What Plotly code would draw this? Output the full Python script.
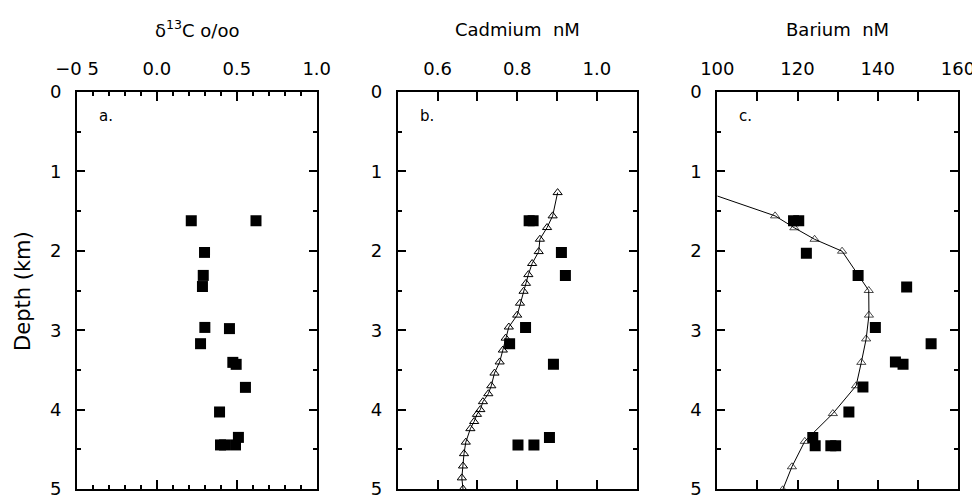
import plotly.graph_objects as go

# Panel a: carbon isotope samples
c13_depth = [1.62, 1.62, 2.02, 2.31, 2.45, 2.965, 2.98, 3.17, 3.405, 3.43, 3.72, 4.03, 4.445, 4.445, 4.445, 4.35]
c13_value = [0.215, 0.62, 0.298, 0.29, 0.285, 0.30, 0.454, 0.273, 0.475, 0.496, 0.554, 0.392, 0.398, 0.423, 0.492, 0.51]

# Panel b: cadmium samples and profile
cd_depth = [1.62, 1.62, 2.02, 2.31, 2.965, 3.17, 3.43, 4.35, 4.445, 4.445]
cd_value = [0.83, 0.84, 0.911, 0.921, 0.821, 0.781, 0.891, 0.881, 0.802, 0.842]
cd_prof_depth = [1.267, 1.56, 1.707, 1.854, 2.01, 2.16, 2.30, 2.41, 2.51, 2.66, 2.81, 2.96, 3.10, 3.25,
                 3.40, 3.54, 3.70, 3.80, 3.90, 4.00, 4.06, 4.15, 4.24, 4.41, 4.555, 4.71, 4.86, 5.00]
cd_prof_value = [0.9015, 0.889, 0.875, 0.857, 0.854, 0.8375, 0.828, 0.822, 0.816, 0.807, 0.80, 0.779, 0.771, 0.764,
                 0.756, 0.743, 0.735, 0.7275, 0.714, 0.7075, 0.699, 0.692, 0.6825, 0.671, 0.6665, 0.664, 0.661, 0.664]

# Panel c: barium samples and profile
ba_depth = [1.62, 1.62, 2.03, 2.31, 2.455, 2.965, 3.17, 3.40, 3.43, 3.715, 4.03, 4.35, 4.455, 4.455, 4.455]
ba_value = [119.0, 120.3, 122.2, 135.1, 147.2, 139.4, 153.3, 144.4, 146.3, 136.3, 132.8, 123.8, 124.4, 128.3, 129.5]
ba_prof_depth = [1.31, 1.56, 1.71, 1.855, 2.005, 2.50, 2.81, 3.11, 3.405, 3.70, 4.05, 4.40, 4.72, 5.01]
ba_prof_value = [100.0, 114.4, 119.2, 124.25, 131.1, 137.75, 137.8, 137.1, 135.9, 134.6, 128.8, 121.8, 118.6, 116.3]

# Axis ticks
a_ticks = [-0.5, 0.0, 0.5, 1.0]
a_labels = ["\u22120 5", "0.0", "0.5", "1.0"]
b_ticks = [0.6, 0.8, 1.0]
b_labels = ["0.6", "0.8", "1.0"]
c_ticks = [100, 120, 140, 160]
c_labels = ["100", "120", "140", "160"]

font_name = "DejaVu Sans"
tick_size = 18
sq = dict(symbol="square", size=11, color="black")
tri = dict(symbol="triangle-up-open", size=8, color="black", line=dict(width=1))

fig = go.Figure()

fig.add_trace(go.Scatter(x=c13_value, y=c13_depth, mode="markers", marker=sq, xaxis="x", yaxis="y"))

fig.add_trace(go.Scatter(x=cd_prof_value, y=cd_prof_depth, mode="lines+markers", marker=tri,
                         line=dict(color="black", width=1), xaxis="x2", yaxis="y2"))
fig.add_trace(go.Scatter(x=cd_value, y=cd_depth, mode="markers", marker=sq, xaxis="x2", yaxis="y2"))

# first barium point is only where the line enters the frame
ba_sizes = [0] + [8] * (len(ba_prof_value) - 1)
fig.add_trace(go.Scatter(x=ba_prof_value, y=ba_prof_depth, mode="lines+markers",
                         marker=dict(tri, size=ba_sizes),
                         line=dict(color="black", width=1), xaxis="x3", yaxis="y3"))
fig.add_trace(go.Scatter(x=ba_value, y=ba_depth, mode="markers", marker=sq, xaxis="x3", yaxis="y3"))

# shared axis styling
def xax(rng, ticks, labels, domain, minor_dtick, minor_len, anchor):
    return dict(range=rng, domain=domain, side="top", anchor=anchor, automargin=False,
                tickmode="array", tickvals=ticks, ticktext=labels,
                ticks="inside", ticklen=9, tickwidth=1.5, tickcolor="black",
                minor=dict(dtick=minor_dtick, tick0=0, ticks="inside", ticklen=minor_len,
                           tickwidth=1.5, tickcolor="black", showgrid=False),
                showline=True, linewidth=2, linecolor="black", mirror="allticks",
                showgrid=False, zeroline=False, ticklabelstandoff=8, ticklabeloverflow="allow",
                tickfont=dict(family=font_name, size=tick_size, color="black"))

def yax(anchor):
    return dict(range=[5, 0], anchor=anchor, domain=[0, 1], automargin=False,
                tickmode="linear", tick0=0, dtick=1,
                ticks="inside", ticklen=8, tickwidth=1.5, tickcolor="black",
                minor=dict(dtick=0.5, ticks="inside", ticklen=4, tickwidth=1.5,
                           tickcolor="black", showgrid=False),
                showline=True, linewidth=2, linecolor="black", mirror="allticks",
                showgrid=False, zeroline=False, ticklabelstandoff=10, ticklabeloverflow="allow",
                tickfont=dict(family=font_name, size=tick_size, color="black"))

dom_a = [0.0, 0.2721]
dom_b = [0.364, 0.6353]
dom_c = [0.7268, 1.0]

# page body adds an 8px offset, so the figure is 8px smaller than the window
fig.update_layout(
    width=972, height=488,
    margin=dict(l=69, r=22, t=84, b=7, autoexpand=False),
    plot_bgcolor="white", paper_bgcolor="white",
    showlegend=False,
    font=dict(family=font_name, size=tick_size, color="black"),
    xaxis=xax([-0.5, 1.0], a_ticks, a_labels, dom_a, 0.1, 4, "y"),
    xaxis2=xax([0.5, 1.1], b_ticks, b_labels, dom_b, 0.1, 9, "y2"),
    xaxis3=xax([100, 160], c_ticks, c_labels, dom_c, 10, 9, "y3"),
    yaxis=yax("x"),
    yaxis2=yax("x2"),
    yaxis3=yax("x3"),
)

# axis titles above each panel
titles = [("x", "\u03b4<sup>13</sup>C o/oo"), ("x2", "Cadmium  nM"), ("x3", "Barium  nM")]
for ax, txt in titles:
    fig.add_annotation(text=txt, xref=ax + " domain", x=0.5, yref="paper", y=1.0,
                       yshift=63, xanchor="center", yanchor="middle", showarrow=False,
                       font=dict(family=font_name, size=18, color="black"))

# panel letters
for ax, ya, lab in [("x", "y", "a."), ("x2", "y2", "b."), ("x3", "y3", "c.")]:
    fig.add_annotation(text=lab, xref=ax + " domain", x=0.083, yref=ya + " domain", y=0.939,
                       xanchor="left", yanchor="middle", showarrow=False,
                       font=dict(family=font_name, size=15, color="black"))

# shared y title
fig.add_annotation(text="Depth (km)", textangle=-90, xref="paper", x=-0.062, yref="paper", y=0.5,
                   xanchor="center", yanchor="middle", showarrow=False,
                   font=dict(family=font_name, size=21, color="black"))

fig.write_html("out.html")
